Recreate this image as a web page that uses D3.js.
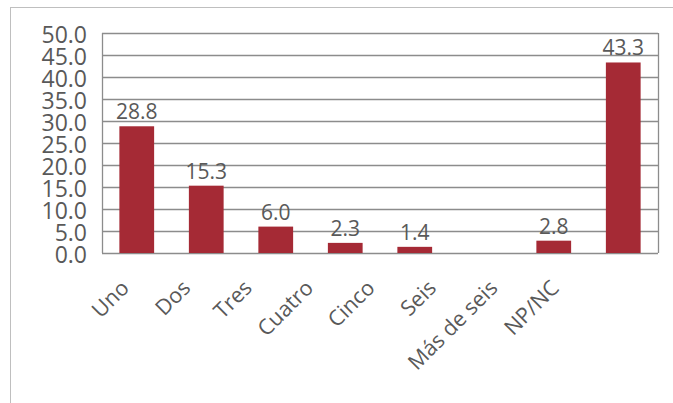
<!DOCTYPE html>
<html>
<head>
<meta charset="utf-8">
<script src="https://cdn.jsdelivr.net/npm/d3@7"></script>
<style>
  body { margin: 0; background: #fff; }
  text { font-family: "Open Sans", sans-serif; fill: #595959; }
</style>
</head>
<body>
<svg></svg>
<script>
const categories = ['Uno', 'Dos', 'Tres', 'Cuatro', 'Cinco', 'Seis', 'Más de seis', 'NP/NC'];
const values = [28.8, 15.3, 6.0, 2.3, 1.4, null, 2.8, 43.3];
const yTicks = [0, 5, 10, 15, 20, 25, 30, 35, 40, 45, 50];

const width = 673;
const height = 403;
const margin = {top: 33, right: 15, bottom: 150, left: 102};

const svg = d3.select('svg')
    .attr('width', width)
    .attr('height', height);

// outer frame
svg.append('rect')
    .attr('x', 10.5)
    .attr('y', 7.5)
    .attr('width', width + 10)
    .attr('height', height + 10)
    .attr('fill', 'none')
    .attr('stroke', '#bfbfbf');

const x = d3.scaleBand()
    .domain(categories)
    .range([margin.left, width - margin.right])
    .paddingInner(0.5)
    .paddingOuter(0.25);

// category labels are squeezed to the left, like in the original
const xLabel = d3.scalePoint()
    .domain(categories)
    .range([125, 555]);

const y = d3.scaleLinear()
    .domain([0, 50])
    .range([height - margin.bottom, margin.top]);

// gridlines
svg.append('g')
  .selectAll('line')
  .data(yTicks)
  .join('line')
    .attr('x1', margin.left)
    .attr('x2', width - margin.right)
    .attr('y1', d => Math.round(y(d)) + 0.5)
    .attr('y2', d => Math.round(y(d)) + 0.5)
    .attr('stroke', '#8c8c8c')
    .attr('stroke-width', 1.3);

// left and right frame of plot area
[margin.left, width - margin.right].forEach(px => {
  svg.append('line')
      .attr('x1', px + 0.5)
      .attr('x2', px + 0.5)
      .attr('y1', y(50))
      .attr('y2', y(0))
      .attr('stroke', '#8c8c8c')
      .attr('stroke-width', 1.3);
});

// y axis labels
svg.append('g')
  .selectAll('text')
  .data(yTicks)
  .join('text')
    .attr('x', 87)
    .attr('y', d => y(d) + 2)
    .attr('dy', '0.35em')
    .attr('text-anchor', 'end')
    .style('font-size', '23px')
    .text(d => d3.format('.1f')(d));

// bars
const barData = categories.map((c, i) => ({c, v: values[i]})).filter(d => d.v != null);

svg.append('g')
  .selectAll('rect')
  .data(barData)
  .join('rect')
    .attr('x', d => x(d.c))
    .attr('y', d => y(d.v))
    .attr('width', x.bandwidth())
    .attr('height', d => y(0) - y(d.v))
    .attr('fill', '#a52a35');

// value labels
svg.append('g')
  .selectAll('text')
  .data(barData)
  .join('text')
    .attr('x', d => x(d.c) + x.bandwidth() / 2)
    .attr('y', d => y(d.v) - 7)
    .attr('text-anchor', 'middle')
    .style('font-size', '21px')
    .text(d => d3.format('.1f')(d.v));

// category labels
svg.append('g')
  .selectAll('text')
  .data(categories)
  .join('text')
    .attr('transform', d => `translate(${xLabel(d)},284) rotate(-45)`)
    .attr('text-anchor', 'end')
    .attr('dy', '0.35em')
    .style('font-size', '21.5px')
    .text(d => d);
</script>
</body>
</html>
